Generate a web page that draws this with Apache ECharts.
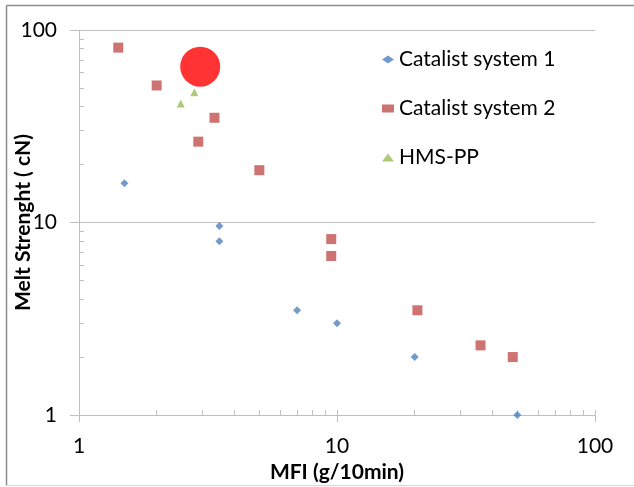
<!DOCTYPE html>
<html>
<head>
<meta charset="utf-8">
<script src="https://cdn.jsdelivr.net/npm/echarts@6/dist/echarts.min.js"></script>
<style>
  html, body { margin: 0; padding: 0; background: #fff; }
  #chart { width: 634px; height: 487px; }
</style>
</head>
<body>
<div id="chart"></div>
<script>
// Melt strength vs. melt flow index, log-log
const seriesNames = ['Catalist system 1', 'Catalist system 2', 'HMS-PP'];

const sys1MFI = [1.5, 3.5, 3.5, 7, 10, 20, 50];
const sys1MS  = [16, 9.6, 8.0, 3.5, 3.0, 2.0, 1.0];

const sys2MFI = [1.42, 2.0, 2.9, 3.35, 5.0, 9.5, 9.5, 20.5, 36, 48];
const sys2MS  = [81, 51.5, 26.3, 35, 18.7, 8.2, 6.7, 3.5, 2.3, 2.0];

const hmsMFI = [2.48, 2.8];
const hmsMS  = [41.5, 47.5];

const highlightMFI = [2.95];
const highlightMS  = [64.5];

// minor tick positions on each log axis
const xMinorTicks = [2, 3, 4, 5, 6, 7, 8, 9, 10, 20, 30, 40, 50, 60, 70, 80, 90, 100];
const yMinorTicks = [2, 3, 4, 5, 6, 7, 8, 9, 20, 30, 40, 50, 60, 70, 80, 90];

const pairs = (xs, ys) => xs.map((x, i) => [x, ys[i]]);

const FONT = 'Lato';
const AXIS_GRAY = '#bfbfbf';

const chart = echarts.init(document.getElementById('chart'));

chart.setOption({
  animation: false,
  backgroundColor: '#fff',
  textStyle: { fontFamily: FONT },
  grid: { left: 79, right: 39, top: 30, bottom: 72, containLabel: false, outerBoundsMode: 'none' },
  graphic: [
    { type: 'line', shape: { x1: 6.5, y1: 5.5, x2: 640, y2: 5.5 }, style: { stroke: '#8c8c8c', lineWidth: 1.5 } },
    { type: 'line', shape: { x1: 6.5, y1: 5.5, x2: 6.5, y2: 485.5 }, style: { stroke: '#8c8c8c', lineWidth: 1.5 } },
    { type: 'line', shape: { x1: 6.5, y1: 485.5, x2: 640, y2: 485.5 }, style: { stroke: '#d9d9d9', lineWidth: 1 } }
  ],
  legend: {
    orient: 'vertical',
    left: 377,
    top: 44,
    itemWidth: 12,
    itemHeight: 8,
    itemGap: 28,
    data: seriesNames,
    textStyle: { fontFamily: FONT, fontSize: 21, color: '#000', lineHeight: 20 }
  },
  xAxis: [
    {
      type: 'log', logBase: 10, min: 1, max: 100,
      name: 'MFI (g/10min)', nameLocation: 'middle', nameGap: 47, nameMoveOverlap: false,
      nameTextStyle: { fontFamily: FONT, fontSize: 21, fontWeight: 'bold', color: '#000' },
      axisLine: { lineStyle: { color: AXIS_GRAY, width: 1 } },
      axisTick: { show: true, length: 7, lineStyle: { color: AXIS_GRAY } },
      axisLabel: { fontFamily: FONT, fontSize: 21, color: '#000', margin: 21 },
      splitLine: { show: false }
    },
    {
      type: 'log', logBase: 10, min: 1, max: 100, position: 'bottom',
      axisLine: { show: false },
      axisTick: { show: true, inside: true, length: 5, customValues: xMinorTicks, lineStyle: { color: AXIS_GRAY } },
      axisLabel: { show: false },
      splitLine: { show: false }
    }
  ],
  yAxis: [
    {
      type: 'log', logBase: 10, min: 1, max: 100,
      name: 'Melt Strenght ( cN)', nameLocation: 'middle', nameGap: 45, nameMoveOverlap: false,
      nameTextStyle: { fontFamily: FONT, fontSize: 21, fontWeight: 'bold', color: '#000' },
      axisLine: { show: true, lineStyle: { color: AXIS_GRAY, width: 1 } },
      axisTick: { show: true, length: 9, lineStyle: { color: AXIS_GRAY } },
      axisLabel: { fontFamily: FONT, fontSize: 21, color: '#000', margin: 22 },
      splitLine: { show: true, lineStyle: { color: AXIS_GRAY, width: 1 } }
    },
    {
      type: 'log', logBase: 10, min: 1, max: 100, position: 'left',
      axisLine: { show: false },
      axisTick: { show: true, inside: true, length: 5, customValues: yMinorTicks, lineStyle: { color: AXIS_GRAY } },
      axisLabel: { show: false },
      splitLine: { show: false }
    }
  ],
  series: [
    {
      name: seriesNames[0], type: 'scatter', symbol: 'diamond', symbolSize: 8,
      itemStyle: { color: '#4f81bd' },
      data: pairs(sys1MFI, sys1MS)
    },
    {
      name: seriesNames[1], type: 'scatter', symbol: 'rect', symbolSize: 10,
      itemStyle: { color: '#c0504d' },
      data: pairs(sys2MFI, sys2MS)
    },
    {
      name: seriesNames[2], type: 'scatter', symbol: 'triangle', symbolSize: 8,
      itemStyle: { color: '#9bbb59' },
      data: pairs(hmsMFI, hmsMS)
    },
    {
      name: 'highlight', type: 'scatter', symbol: 'circle', symbolSize: 40,
      itemStyle: { color: '#ff0000' },
      data: pairs(highlightMFI, highlightMS)
    }
  ]
});
</script>
</body>
</html>
